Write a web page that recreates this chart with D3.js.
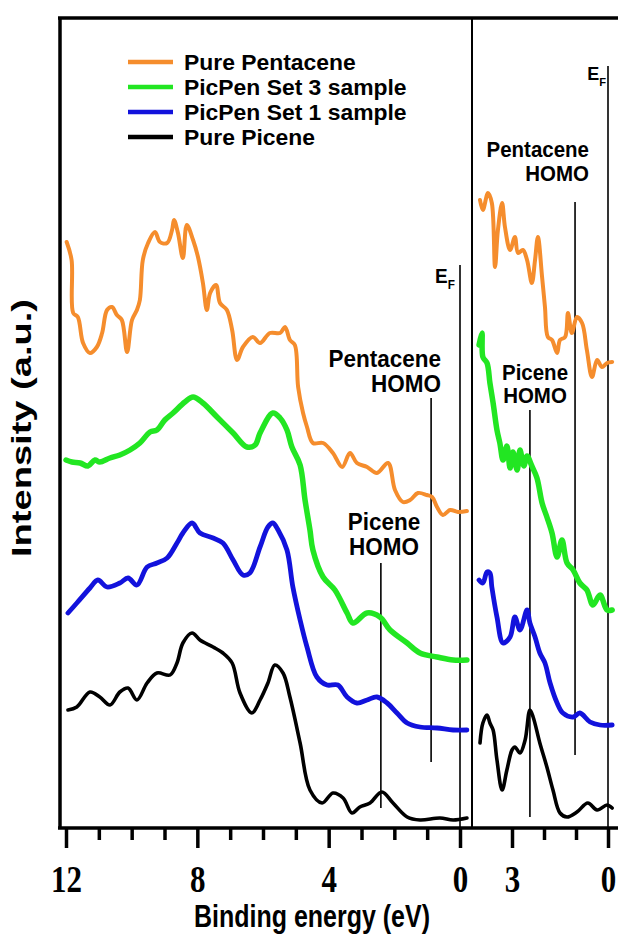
<!DOCTYPE html>
<html><head><meta charset="utf-8">
<script src="https://cdn.jsdelivr.net/npm/d3@7"></script>
<style>body{margin:0;background:#fff} svg{display:block}</style>
</head><body><svg id="c" width="618" height="934"></svg>
<script>
// ---- data (binding energy eV, intensity a.u.) ----
const seriesNames = ["Pure Pentacene", "PicPen Set 3 sample", "PicPen Set 1 sample", "Pure Picene"];
const seriesColors = ["#f58d2d", "#22e622", "#1212dc", "#000000"];
const leftMajorTicks = [12, 8, 4, 0];
const leftMinorTicks = [11, 10, 9, 7, 6, 5, 3, 2, 1];
const rightMajorTicks = [3, 0];
const rightMinorTicks = [2, 1];

const leftPentacene = [[11.98,586],[11.83,568],[11.78,515],[11.64,511],[11.48,485],[11.27,475],[11.06,481],[10.90,495],[10.75,518],[10.60,521],[10.45,513],[10.30,508],[10.14,476],[9.99,508],[9.84,518],[9.75,528],[9.66,568],[9.50,585],[9.29,596],[9.14,586],[8.92,585],[8.77,598],[8.71,608],[8.59,595],[8.44,570],[8.32,603],[8.13,588],[7.98,571],[7.83,545],[7.71,518],[7.61,535],[7.43,543],[7.31,525],[7.10,518],[6.94,498],[6.79,468],[6.61,481],[6.31,491],[6.09,485],[5.79,495],[5.48,495],[5.33,501],[5.18,488],[5.03,483],[4.93,441],[4.78,415],[4.66,401],[4.48,385],[4.17,385],[3.87,375],[3.59,361],[3.35,375],[3.14,365],[2.83,361],[2.53,355],[2.19,365],[1.98,338],[1.74,326],[1.52,328],[1.28,335],[1.01,333],[0.85,331],[0.70,321],[0.52,313],[0.30,318],[0.06,316],[-0.21,317]];
const leftSet3 = [[12.00,368],[11.82,366],[11.57,365],[11.33,362],[11.12,368],[10.97,366],[10.66,370],[10.36,373],[10.05,378],[9.75,385],[9.44,396],[9.23,398],[8.99,408],[8.74,415],[8.38,426],[8.13,431],[7.83,425],[7.40,411],[6.91,395],[6.49,381],[6.24,383],[6.09,395],[5.70,415],[5.48,410],[5.27,398],[5.12,381],[4.87,363],[4.72,328],[4.57,298],[4.48,278],[4.17,251],[3.81,238],[3.44,215],[3.26,205],[2.83,215],[2.44,211],[2.13,198],[1.61,185],[1.22,175],[0.70,171],[0.21,168],[-0.21,168]];
const leftSet1 = [[11.94,215],[11.67,225],[11.27,240],[11.03,248],[10.75,241],[10.36,245],[10.11,250],[9.84,243],[9.53,261],[9.23,265],[8.92,270],[8.62,285],[8.44,295],[8.16,305],[7.92,295],[7.52,290],[7.22,285],[6.91,268],[6.61,253],[6.40,255],[6.09,281],[5.85,301],[5.70,305],[5.54,298],[5.27,278],[5.09,241],[4.87,208],[4.66,181],[4.36,151],[4.05,143],[3.72,143],[3.44,131],[3.14,125],[2.83,128],[2.53,131],[2.22,125],[1.92,115],[1.61,105],[1.22,101],[0.70,100],[0.21,98],[-0.21,98]];
const leftPicene = [[11.94,118],[11.67,121],[11.27,136],[10.97,131],[10.66,123],[10.36,136],[10.11,140],[9.84,128],[9.53,145],[9.23,155],[8.83,153],[8.62,165],[8.44,185],[8.16,195],[7.92,188],[7.52,181],[7.22,175],[6.94,165],[6.70,135],[6.34,115],[6.09,128],[5.85,145],[5.64,163],[5.39,155],[5.18,131],[4.87,85],[4.57,38],[4.20,25],[3.87,35],[3.56,30],[3.29,15],[3.05,21],[2.74,25],[2.38,36],[2.04,25],[1.61,11],[1.22,8],[0.61,10],[0.21,8],[-0.21,10]];

const rightPentacene = [[4.00,628],[3.91,618],[3.75,635],[3.63,625],[3.53,561],[3.44,598],[3.31,625],[3.22,601],[3.06,578],[2.91,591],[2.81,575],[2.66,578],[2.53,568],[2.38,545],[2.28,568],[2.19,591],[2.06,551],[1.97,521],[1.88,491],[1.75,488],[1.59,475],[1.50,488],[1.34,491],[1.25,515],[1.13,495],[0.97,511],[0.81,505],[0.66,478],[0.50,451],[0.34,468],[0.19,461],[0.03,465],[-0.13,466]];
const rightSet3 = [[4.03,483],[3.94,495],[3.91,471],[3.78,465],[3.69,445],[3.59,425],[3.47,398],[3.38,385],[3.28,368],[3.16,382],[3.06,360],[2.97,376],[2.84,358],[2.75,378],[2.63,362],[2.53,372],[2.38,362],[2.22,350],[2.06,325],[1.91,311],[1.75,295],[1.59,271],[1.44,288],[1.28,265],[1.09,258],[0.88,245],[0.66,238],[0.47,223],[0.25,233],[0.03,218],[-0.13,218]];
const rightSet1 = [[4.03,248],[3.91,245],[3.78,256],[3.69,255],[3.63,241],[3.47,211],[3.28,185],[3.06,191],[2.91,211],[2.75,198],[2.53,218],[2.44,205],[2.28,191],[2.13,175],[1.97,165],[1.81,145],[1.59,125],[1.41,115],[1.09,111],[0.88,115],[0.56,106],[0.25,103],[-0.13,103]];
const rightPicene = [[4.00,85],[3.91,105],[3.78,113],[3.69,105],[3.59,98],[3.47,68],[3.31,38],[3.16,58],[3.00,78],[2.91,81],[2.75,75],[2.59,88],[2.44,118],[2.34,111],[2.13,85],[1.91,61],[1.72,38],[1.50,15],[1.28,11],[0.97,16],[0.63,25],[0.34,18],[0.03,23],[-0.13,20]];

// vertical marker lines: [energy, top intensity, bottom intensity]
const leftMarkers = [[0, 563, 0], [0.88, 430, 66], [2.41, 265, 20]];
const rightMarkers = [[0, 762, 0], [1.03, 626, 73], [2.44, 418, 11]];

// ---- drawing ----
const svg = d3.select("#c");
svg.append("rect").attr("width", 618).attr("height", 934).attr("fill", "#fff");

const xL = d3.scaleLinear().domain([12, 0]).range([66, 460]);
const xR = d3.scaleLinear().domain([3, 0]).range([512, 608]);
const y = d3.scaleLinear().domain([0, 810]).range([828, 18]);

const widths = [4, 5.5, 4.8, 3.6];
const leftSets = [leftPentacene, leftSet3, leftSet1, leftPicene];
const rightSets = [rightPentacene, rightSet3, rightSet1, rightPicene];

function drawPanel(x, sets, markers) {
  markers.forEach(m => {
    svg.append("line").attr("x1", x(m[0])).attr("x2", x(m[0]))
      .attr("y1", y(m[1])).attr("y2", y(m[2]))
      .attr("stroke", "#000").attr("stroke-width", 1.6);
  });
  sets.forEach((d, i) => {
    const line = d3.line().x(p => x(p[0])).y(p => y(p[1])).curve(d3.curveCatmullRom.alpha(0.5));
    svg.append("path").datum(d).attr("d", line).attr("fill", "none")
      .attr("stroke", seriesColors[i]).attr("stroke-width", widths[i])
      .attr("stroke-linejoin", "round").attr("stroke-linecap", "round");
  });
}
drawPanel(xL, leftSets, leftMarkers);
drawPanel(xR, rightSets, rightMarkers);

// frame
const frame = svg.append("g").attr("stroke", "#000");
frame.append("line").attr("x1", 58).attr("x2", 618).attr("y1", 18).attr("y2", 18).attr("stroke-width", 3.5);
frame.append("line").attr("x1", 60).attr("x2", 60).attr("y1", 17).attr("y2", 829).attr("stroke-width", 3.5);
frame.append("line").attr("x1", 472).attr("x2", 472).attr("y1", 18).attr("y2", 828).attr("stroke-width", 2);

// axes
function axis(x, major, minor) {
  const gMaj = svg.append("g").attr("transform", "translate(0,828)")
    .call(d3.axisBottom(x).tickValues(major).tickSize(20).tickFormat(d3.format("d")));
  gMaj.select(".domain").remove();
  gMaj.selectAll(".tick line").attr("stroke", "#000").attr("stroke-width", 3.5);
  gMaj.selectAll(".tick text").attr("y", 0).attr("dy", 0)
    .attr("transform", "translate(0,64) scale(1,1.22)")
    .attr("font-family", "'Liberation Serif', 'Times New Roman', serif")
    .attr("font-weight", "bold").attr("font-size", 31).attr("fill", "#000");
  const gMin = svg.append("g").attr("transform", "translate(0,828)")
    .call(d3.axisBottom(x).tickValues(minor).tickSize(12).tickFormat(""));
  gMin.select(".domain").remove();
  gMin.selectAll(".tick line").attr("stroke", "#000").attr("stroke-width", 3.5);
}
axis(xL, leftMajorTicks, leftMinorTicks);
axis(xR, rightMajorTicks, rightMinorTicks);
svg.append("line").attr("x1", 58).attr("x2", 618).attr("y1", 828).attr("y2", 828)
  .attr("stroke", "#000").attr("stroke-width", 3.5);

// axis titles
const sans = "'Liberation Sans', Arial, sans-serif";
svg.append("text").attr("transform", "translate(312,927) scale(1,1.25)").attr("text-anchor", "middle")
  .attr("font-family", sans).attr("font-weight", "bold").attr("font-size", 25)
  .text("Binding energy (eV)");
svg.append("text").attr("transform", "translate(31,428) rotate(-90) scale(1.36,1)").attr("text-anchor", "middle")
  .attr("font-family", sans).attr("font-weight", "bold").attr("font-size", 28)
  .text("Intensity (a.u.)");

// legend
const legendRows = [62, 87, 112, 137];
seriesNames.forEach((n, i) => {
  svg.append("line").attr("x1", 128).attr("x2", 173).attr("y1", legendRows[i]).attr("y2", legendRows[i])
    .attr("stroke", seriesColors[i]).attr("stroke-width", 4.5);
  svg.append("text").attr("transform", `translate(184,${legendRows[i] + 8}) scale(1.09,1.04)`)
    .attr("font-family", sans).attr("font-weight", "bold").attr("font-size", 21).text(n);
});

// annotations
const LS = 1.06;
function label(txt, x, yy, anchor, size) {
  svg.append("text").attr("transform", `translate(${x},${yy}) scale(1,${LS})`).attr("text-anchor", anchor)
    .attr("font-family", sans).attr("font-weight", "bold").attr("font-size", size).text(txt);
}
function ef(x, yy, size) {
  const t = svg.append("text").attr("transform", `translate(${x},${yy}) scale(1,${LS})`).attr("text-anchor", "end")
    .attr("font-family", sans).attr("font-weight", "bold").attr("font-size", size);
  t.append("tspan").text("E");
  t.append("tspan").attr("dy", 6).attr("font-size", size * 0.62).text("F");
}
ef(455, 283, 19);
label("Pentacene", 441, 367, "end", 22.5);
label("HOMO", 441, 392, "end", 22.5);
label("Picene", 384, 530, "middle", 22.5);
label("HOMO", 384, 555, "middle", 22.5);
ef(606, 80, 18);
label("Pentacene", 589, 157, "end", 20.5);
label("HOMO", 589, 181, "end", 20.5);
label("Picene", 535, 380, "middle", 20.5);
label("HOMO", 535, 403, "middle", 20.5);
</script></body></html>
